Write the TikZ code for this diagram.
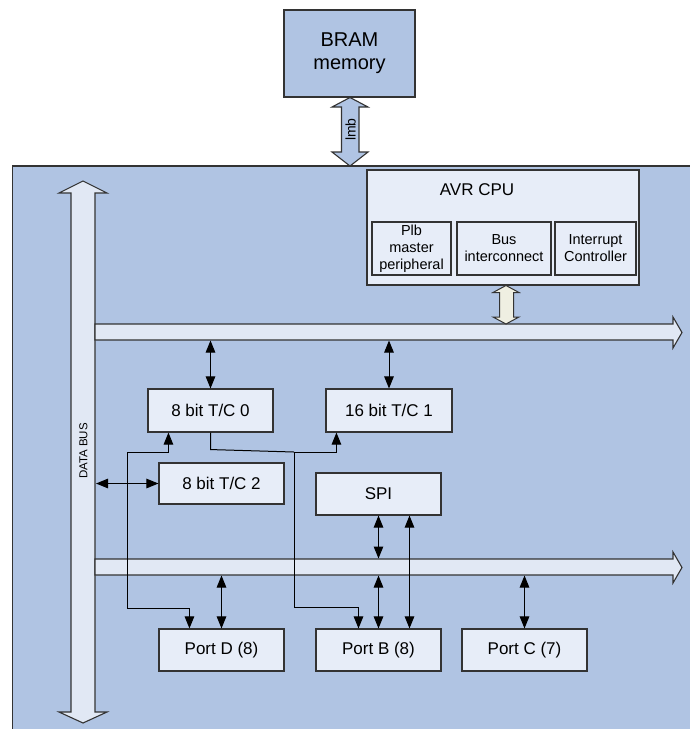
\documentclass[tikz,border=0pt]{standalone}
\usepackage{fontspec}
\setmainfont{Liberation Sans}
\usetikzlibrary{arrows.meta,calc}

\definecolor{panel}{HTML}{B0C4E3}
\definecolor{boxfill}{HTML}{E7EDF8}
\definecolor{busfill}{HTML}{E1E8F4}
\definecolor{ivory}{HTML}{EFEFE2}
\definecolor{edge}{HTML}{333333}

\tikzset{
  blockbox/.style={draw=edge, fill=boxfill, line width=1.1pt, inner sep=0pt,
    font=\fontsize{17}{20}\selectfont, align=center},
  subbox/.style={draw=edge, fill=boxfill, line width=1.1pt, inner sep=0pt,
    font=\fontsize{14.5}{17}\selectfont, align=center},
  fatarrow/.style={draw=edge, line width=1.1pt, line join=miter},
  biarrow/.style={draw=black, line width=1pt,
    {Triangle[length=12pt,width=9.5pt]}-{Triangle[length=12pt,width=9.5pt]}},
  onearrow/.style={draw=black, line width=1pt, -{Triangle[length=12pt,width=9.5pt]}},
  wire/.style={draw=black, line width=1pt}
}

\begin{document}
\begin{tikzpicture}[x=1pt,y=-1pt]
\useasboundingbox (0,0) rectangle (690,729);
\clip (0,0) rectangle (690,729);

% system panel
\fill[panel] (12.5,166) rectangle (700,740);
\draw[edge, line width=1.2pt] (700,166) -- (12.5,166) -- (12.5,740);

% BRAM block and its lmb link
\node[draw=edge, fill=panel, line width=1.1pt, minimum width=131pt, minimum height=87pt,
  inner sep=0pt, align=center, font=\fontsize{20}{23}\selectfont] (bram) at (349.5,53.5) {BRAM\\memory};
\draw[fatarrow, fill=panel] (350,97.5) -- (368,107) -- (359,107) -- (359,152) -- (368,152)
  -- (350,166) -- (332,152) -- (341.5,152) -- (341.5,107) -- (332,107) -- cycle;
\node[rotate=90, font=\fontsize{14}{16}\selectfont] (lmb) at (350.5,129.5) {lmb};

% data bus (vertical)
\draw[fatarrow, fill=busfill] (83,181) -- (107,193) -- (95,193) -- (95,712) -- (107,712)
  -- (83,723) -- (59,712) -- (71,712) -- (71,193) -- (59,193) -- cycle;
\node[rotate=90, font=\fontsize{11.5}{13}\selectfont] (dbus) at (83.5,451) {DATA BUS};
\coordinate (dbusright) at (96,484);

% upper and lower horizontal buses
\draw[fatarrow, fill=busfill] (95,324) -- (673,324) -- (673,317) -- (682,332.5) -- (673,348)
  -- (673,340) -- (95,340) -- cycle;
\draw[fatarrow, fill=busfill] (95,559) -- (673,559) -- (673,552) -- (682,567.5) -- (673,583)
  -- (673,575) -- (95,575) -- cycle;
\coordinate (busAtop) at (0,324);
\coordinate (busAbot) at (0,340.5);
\coordinate (busBtop) at (0,558.5);
\coordinate (busBbot) at (0,575.5);

% CPU
\node[draw=edge, fill=boxfill, line width=1.1pt, minimum width=272pt, minimum height=115pt,
  inner sep=0pt] (cpu) at (503,227.5) {};
\node[font=\fontsize{17}{20}\selectfont] (cputitle) at (477,190) {AVR CPU};
\node[subbox, minimum width=79pt, minimum height=53pt] (plb) at (411.5,248.5) {Plb\\master\\peripheral};
\node[subbox, minimum width=94pt, minimum height=53pt] (bic) at (504,248.5) {Bus\\interconnect};
\node[subbox, minimum width=81pt, minimum height=53pt] (intc) at (595.5,248.5) {Interrupt\\Controller};

% CPU to upper bus link
\draw[fatarrow, fill=ivory, line width=1pt] (506,285.5) -- (519,292.5) -- (513.5,292.5) -- (513.5,317)
  -- (519,317) -- (506,324) -- (493,317) -- (499.5,317) -- (499.5,292.5) -- (493,292.5) -- cycle;

% peripheral blocks
\node[blockbox, minimum width=125pt, minimum height=43pt] (tc0) at (210.5,410.5) {8 bit T/C 0};
\node[blockbox, minimum width=126pt, minimum height=43pt] (tc1) at (389,410.5) {16 bit T/C 1};
\node[blockbox, minimum width=125pt, minimum height=41pt] (tc2) at (221.5,483.5) {8 bit T/C 2};
\node[blockbox, minimum width=125pt, minimum height=42pt] (spi) at (378.5,494) {SPI};
\node[blockbox, minimum width=125pt, minimum height=42pt] (portD) at (221.5,650) {Port D (8)};
\node[blockbox, minimum width=125pt, minimum height=42pt] (portB) at (378.5,650) {Port B (8)};
\node[blockbox, minimum width=125pt, minimum height=42pt] (portC) at (524.5,650) {Port C (7)};

% bus connections
\draw[biarrow] (tc0.north) -- (tc0.north |- busAbot);
\draw[biarrow] (tc1.north) -- (tc1.north |- busAbot);
\draw[biarrow] (tc2.west) -- (tc2.west -| dbusright);
\draw[biarrow] (spi.south) -- (spi.south |- busBtop);
\draw[biarrow] (portD.north) -- (portD.north |- busBbot);
\draw[biarrow] (portB.north) -- (portB.north |- busBbot);
\draw[biarrow] (portC.north) -- (portC.north |- busBbot);

% timer and SPI pin routing to the ports
\draw[biarrow] ($(tc0.south west)+(21,0)$) |- (127,452) |- ($(portD.north west)+(31,-20)$)
  -- ($(portD.north west)+(31,0)$);
\draw[biarrow] ($(tc1.south west)+(11,0)$) |- (294,452) |- ($(portB.north)+(-20,-21)$)
  -- ($(portB.north)+(-20,0)$);
\draw[wire] (tc0.south) -- ++(0,17) -- (294,452);
\draw[biarrow] ($(spi.south)+(31,0)$) -- ($(portB.north)+(31,0)$);

\end{tikzpicture}
\end{document}
